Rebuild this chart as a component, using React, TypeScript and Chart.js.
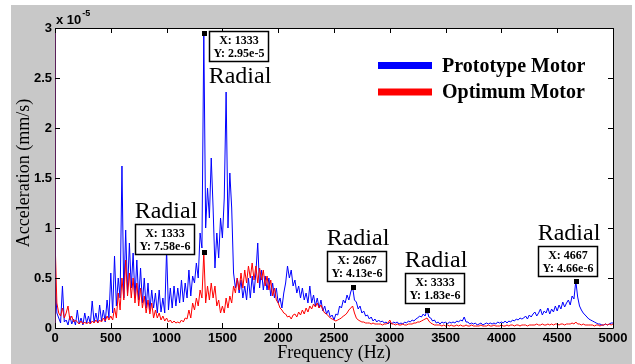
import React, { useEffect, useRef } from "react";
import { Chart, registerables } from "chart.js";
Chart.register(...registerables);

// ---------- data (acceleration in units of 1e-5 mm/s) ----------
const FREQ_MAX = 5000;
const BIN_COUNT = 300; // spectrum sampled every 5000/300 Hz

const prototypeMotor = [
  0.48, 0.15, 0.1, 0.05, 0.42, 0.06,
  0.08, 0.03, 0.12, 0.04, 0.09, 0.03,
  0.18, 0.04, 0.1, 0.03, 0.15, 0.05,
  0.12, 0.04, 0.27, 0.06, 0.15, 0.05,
  0.23, 0.07, 0.18, 0.06, 0.28, 0.1,
  0.55, 0.15, 0.72, 0.22, 0.5, 0.3,
  1.62, 0.3, 0.98, 0.35, 0.85, 0.4,
  0.75, 0.3, 0.68, 0.28, 0.6, 0.25,
  0.5, 0.2, 0.45, 0.18, 0.38, 0.2,
  0.35, 0.15, 0.38, 0.16, 0.3, 0.15,
  0.78, 0.18, 0.4, 0.2, 0.42, 0.22,
  0.4, 0.25, 0.48, 0.26, 0.45, 0.3,
  0.58, 0.32, 0.52, 0.45, 0.65, 0.5,
  0.95, 0.8, 2.95, 1.0, 1.4, 1.1,
  1.7, 1.2, 0.6, 0.95, 0.7, 1.1,
  0.9, 1.3, 2.36, 1.0, 1.55, 1.2,
  0.55, 0.4, 0.5, 0.35, 0.48, 0.3,
  0.42, 0.28, 0.5, 0.3, 0.52, 0.35,
  0.55, 0.85, 0.4, 0.58, 0.38, 0.52,
  0.38, 0.5, 0.32, 0.45, 0.3, 0.4,
  0.25, 0.3, 0.2, 0.35, 0.45, 0.62,
  0.5, 0.58, 0.42, 0.48, 0.35, 0.42,
  0.3, 0.4, 0.28, 0.35, 0.25, 0.42,
  0.25, 0.33, 0.22, 0.3, 0.2, 0.28,
  0.17, 0.22, 0.14, 0.18, 0.11, 0.13,
  0.08, 0.14, 0.13, 0.22, 0.2, 0.28,
  0.25, 0.33, 0.28, 0.36, 0.41, 0.28,
  0.26, 0.19, 0.22, 0.15, 0.17, 0.12,
  0.13, 0.09, 0.11, 0.07, 0.09, 0.06,
  0.08, 0.06, 0.07, 0.05, 0.06, 0.04,
  0.06, 0.04, 0.06, 0.05, 0.06, 0.04,
  0.05, 0.04, 0.06, 0.05, 0.07, 0.06,
  0.08, 0.07, 0.09, 0.1, 0.12, 0.11,
  0.14, 0.12, 0.18, 0.11, 0.1, 0.07,
  0.08, 0.05, 0.06, 0.04, 0.06, 0.05,
  0.06, 0.04, 0.06, 0.05, 0.06, 0.05,
  0.07, 0.06, 0.08, 0.07, 0.11, 0.06,
  0.06, 0.04, 0.05, 0.04, 0.05, 0.03,
  0.04, 0.05, 0.03, 0.04, 0.05, 0.04,
  0.05, 0.04, 0.05, 0.04, 0.06, 0.05,
  0.06, 0.05, 0.07, 0.05, 0.07, 0.06,
  0.08, 0.07, 0.09, 0.08, 0.1, 0.09,
  0.1, 0.12, 0.09, 0.13, 0.11, 0.14,
  0.16, 0.12, 0.15, 0.19, 0.13, 0.17,
  0.15, 0.2, 0.14, 0.19, 0.16, 0.22,
  0.17, 0.23, 0.19, 0.26, 0.21, 0.25,
  0.28, 0.23, 0.32, 0.29, 0.47, 0.31,
  0.22, 0.18, 0.15, 0.13, 0.11, 0.09,
  0.08, 0.07, 0.06, 0.05, 0.04, 0.04,
  0.03, 0.03, 0.04, 0.03, 0.04, 0.05,
  0.05,
];

const optimumMotor = [
  0.9, 0.25, 0.15, 0.12, 0.2, 0.1,
  0.15, 0.22, 0.08, 0.12, 0.06, 0.08,
  0.06, 0.04, 0.07, 0.04, 0.06, 0.04,
  0.06, 0.04, 0.07, 0.05, 0.08, 0.05,
  0.08, 0.06, 0.1, 0.07, 0.12, 0.08,
  0.12, 0.08, 0.2, 0.1, 0.35, 0.18,
  0.5, 0.28, 0.68, 0.32, 0.55, 0.3,
  0.5, 0.25, 0.45, 0.22, 0.4, 0.2,
  0.32, 0.15, 0.28, 0.14, 0.25, 0.1,
  0.18, 0.1, 0.15, 0.08, 0.12, 0.07,
  0.1, 0.06, 0.08, 0.05, 0.07, 0.05,
  0.06, 0.05, 0.08, 0.06, 0.1, 0.09,
  0.18, 0.1, 0.25, 0.18, 0.3, 0.22,
  0.38, 0.3, 0.76, 0.25, 0.42, 0.28,
  0.45, 0.3, 0.42, 0.22, 0.28, 0.15,
  0.22, 0.15, 0.3, 0.2, 0.32, 0.25,
  0.42, 0.35, 0.5, 0.38, 0.55, 0.4,
  0.58, 0.45, 0.62, 0.5, 0.65, 0.48,
  0.62, 0.45, 0.6, 0.48, 0.58, 0.42,
  0.52, 0.38, 0.48, 0.32, 0.4, 0.28,
  0.25, 0.2, 0.18, 0.15, 0.14, 0.11,
  0.12, 0.09, 0.13, 0.14, 0.11, 0.16,
  0.13, 0.18, 0.14, 0.2, 0.16, 0.22,
  0.19, 0.24, 0.21, 0.25, 0.2, 0.23,
  0.18, 0.15, 0.14, 0.12, 0.1, 0.09,
  0.08, 0.07, 0.08, 0.09, 0.1, 0.12,
  0.13, 0.15, 0.18, 0.2, 0.22, 0.15,
  0.1, 0.08, 0.07, 0.06, 0.06, 0.05,
  0.05, 0.05, 0.04, 0.05, 0.04, 0.04,
  0.04, 0.04, 0.03, 0.04, 0.04, 0.05,
  0.08, 0.04, 0.04, 0.03, 0.04, 0.03,
  0.03, 0.04, 0.03, 0.03, 0.04, 0.04,
  0.04, 0.05, 0.05, 0.06, 0.06, 0.07,
  0.08, 0.09, 0.1, 0.07, 0.05, 0.04,
  0.03, 0.03, 0.03, 0.03, 0.02, 0.03,
  0.02, 0.03, 0.02, 0.03, 0.02, 0.02,
  0.03, 0.02, 0.03, 0.02, 0.02, 0.03,
  0.02, 0.02, 0.03, 0.02, 0.02, 0.02,
  0.02, 0.03, 0.02, 0.02, 0.02, 0.03,
  0.02, 0.02, 0.03, 0.02, 0.02, 0.02,
  0.03, 0.02, 0.02, 0.03, 0.02, 0.03,
  0.03, 0.02, 0.03, 0.03, 0.02, 0.03,
  0.03, 0.03, 0.02, 0.03, 0.03, 0.03,
  0.03, 0.04, 0.03, 0.03, 0.04, 0.03,
  0.03, 0.04, 0.03, 0.04, 0.03, 0.04,
  0.04, 0.03, 0.04, 0.04, 0.03, 0.04,
  0.04, 0.04, 0.05, 0.04, 0.06, 0.04,
  0.04, 0.03, 0.04, 0.03, 0.03, 0.03,
  0.03, 0.03, 0.02, 0.03, 0.03, 0.02,
  0.03, 0.03, 0.04, 0.03, 0.04, 0.03,
  0.04,
];

const seriesNames = ["Prototype Motor", "Optimum Motor"];
const xTickValues = [0, 500, 1000, 1500, 2000, 2500, 3000, 3500, 4000, 4500, 5000];
const yTickValues = [0, 0.5, 1, 1.5, 2, 2.5, 3];
const xTitle = "Frequency (Hz)";
const yTitle = "Acceleration (mm/s)";
const exponentBase = "x 10";
const exponentPower = "-5";

// datatips (x in Hz, y in 1e-5 units)
const tipX = [1333.33, 1333.33, 2666.67, 3333.33, 4666.67];
const tipY = [2.95, 0.758, 0.413, 0.183, 0.466];
const tipXText = ["X: 1333", "X: 1333", "X: 2667", "X: 3333", "X: 4667"];
const tipYText = ["Y: 2.95e-5", "Y: 7.58e-6", "Y: 4.13e-6", "Y: 1.83e-6", "Y: 4.66e-6"];
const peakLabel = "Radial";

// layout of datatip boxes relative to marker: [dx, dy, labelBelow]
const tipLayout: [number, number, boolean][] = [
  [5, -2, true],
  [-69, -28, false],
  [-26, -36, false],
  [-22, -37, false],
  [-38, -35, false],
];

const SERIF = "'Liberation Serif', 'Times New Roman', serif";
const SANS = "'Liberation Sans', Arial, sans-serif";
const BLUE = "#0000ff";
const RED = "#ff0000";

const decorPlugin = {
  id: "decor",
  beforeDraw(chart: any) {
    const { ctx, chartArea: a } = chart;
    ctx.save();
    ctx.fillStyle = "#ffffff";
    ctx.fillRect(0, 0, chart.width, chart.height);
    ctx.fillStyle = "#c8c8c8";
    ctx.fillRect(11, 5, 621, 359);
    ctx.fillStyle = "#ffffff";
    ctx.fillRect(a.left, a.top, a.right - a.left, a.bottom - a.top);
    ctx.restore();
  },
  afterDraw(chart: any) {
    const { ctx, chartArea: a } = chart;
    const xs = chart.scales.x;
    const ys = chart.scales.y;
    ctx.save();
    // box
    ctx.lineWidth = 1;
    ctx.strokeStyle = "#000";
    ctx.beginPath();
    ctx.moveTo(a.left, a.top + 0.5);
    ctx.lineTo(a.right + 0.5, a.top + 0.5);
    ctx.lineTo(a.right + 0.5, a.bottom + 0.5);
    ctx.lineTo(a.left, a.bottom + 0.5);
    ctx.stroke();
    ctx.strokeStyle = "#5a205a";
    ctx.beginPath();
    ctx.moveTo(a.left + 0.5, a.top);
    ctx.lineTo(a.left + 0.5, a.bottom + 1);
    ctx.stroke();
    // inward ticks
    ctx.strokeStyle = "#000";
    const TL = 5;
    ctx.beginPath();
    xTickValues.forEach((v) => {
      const px = Math.round(xs.getPixelForValue(v)) + 0.5;
      ctx.moveTo(px, a.bottom);
      ctx.lineTo(px, a.bottom - TL);
      ctx.moveTo(px, a.top);
      ctx.lineTo(px, a.top + TL);
    });
    yTickValues.forEach((v) => {
      const py = Math.round(ys.getPixelForValue(v)) + 0.5;
      ctx.moveTo(a.left, py);
      ctx.lineTo(a.left + TL, py);
      ctx.moveTo(a.right, py);
      ctx.lineTo(a.right - TL, py);
    });
    ctx.stroke();

    // exponent label
    ctx.fillStyle = "#000";
    ctx.textBaseline = "middle";
    ctx.textAlign = "left";
    ctx.font = `bold 13px ${SANS}`;
    ctx.fillText(exponentBase, a.left + 1, 20);
    const w = ctx.measureText(exponentBase).width;
    ctx.font = `bold 9px ${SANS}`;
    ctx.fillText(exponentPower, a.left + 2 + w, 14);

    // axis titles
    ctx.font = `18px ${SERIF}`;
    ctx.textAlign = "center";
    ctx.textBaseline = "middle";
    ctx.fillText(xTitle, (a.left + a.right) / 2, 353);
    ctx.save();
    ctx.translate(24, 173);
    ctx.rotate(-Math.PI / 2);
    ctx.fillText(yTitle, 0, 0);
    ctx.restore();

    // legend
    const legendColors = [BLUE, RED];
    const legendY = [65.5, 92];
    legendColors.forEach((c, i) => {
      ctx.strokeStyle = c;
      ctx.lineWidth = 7;
      ctx.beginPath();
      ctx.moveTo(378, legendY[i]);
      ctx.lineTo(432, legendY[i]);
      ctx.stroke();
      ctx.fillStyle = "#000";
      ctx.font = `bold 20px ${SERIF}`;
      ctx.textAlign = "left";
      ctx.textBaseline = "middle";
      ctx.fillText(seriesNames[i], 442, legendY[i] + 1);
    });

    // datatips
    tipX.forEach((xv, i) => {
      const mx = xs.getPixelForValue(xv);
      const my = ys.getPixelForValue(tipY[i]);
      ctx.fillStyle = "#000";
      ctx.fillRect(Math.round(mx) - 2, Math.round(my) - 2, 5, 5);
      const [dx, dy, below] = tipLayout[i];
      const bx = Math.round(mx + dx);
      const by = Math.round(my + dy);
      const bw = 60;
      const bh = 31;
      ctx.fillStyle = "#fff";
      ctx.fillRect(bx, by, bw, bh);
      ctx.strokeStyle = "#000";
      ctx.lineWidth = 1.5;
      ctx.strokeRect(bx + 0.5, by + 0.5, bw - 1, bh - 1);
      ctx.fillStyle = "#000";
      ctx.font = `bold 12px ${SERIF}`;
      ctx.textAlign = "center";
      ctx.textBaseline = "middle";
      ctx.fillText(tipXText[i], bx + bw / 2, by + 9.5);
      ctx.fillText(tipYText[i], bx + bw / 2, by + 22.5);
      ctx.font = `24px ${SERIF}`;
      ctx.textBaseline = "alphabetic";
      const ly = below ? by + bh + 21 : by - 6;
      ctx.fillText(peakLabel, bx + bw / 2 + 1, ly);
    });
    ctx.restore();
  },
};

export default function App() {
  const ref = useRef<HTMLCanvasElement | null>(null);
  useEffect(() => {
    if (!ref.current) return;
    const step = FREQ_MAX / BIN_COUNT;
    const toPoints = (arr: number[]) => arr.map((v, i) => ({ x: i * step, y: v }));
    const tickFont = { family: SANS, size: 13, weight: "bold" as const };
    const chart = new Chart(ref.current, {
      type: "line",
      data: {
        datasets: [
          {
            label: seriesNames[0],
            data: toPoints(prototypeMotor),
            borderColor: BLUE,
            borderWidth: 1,
            pointRadius: 0,
            tension: 0,
            order: 1,
          },
          {
            label: seriesNames[1],
            data: toPoints(optimumMotor),
            borderColor: RED,
            borderWidth: 1,
            pointRadius: 0,
            tension: 0,
            order: 0,
          },
        ],
      },
      options: {
        animation: false,
        responsive: false,
        maintainAspectRatio: false,
        layout: { padding: { left: 0, right: 22, top: 28, bottom: 0 } },
        plugins: { legend: { display: false }, tooltip: { enabled: false } },
        scales: {
          x: {
            type: "linear",
            min: 0,
            max: FREQ_MAX,
            afterFit: (s: any) => {
              s.height = 36;
            },
            afterBuildTicks: (s: any) => {
              s.ticks = xTickValues.map((v) => ({ value: v }));
            },
            ticks: {
              autoSkip: false,
              maxRotation: 0,
              padding: 3,
              color: "#000",
              font: tickFont,
              callback: (v: any) => String(v),
            },
            grid: { display: false, drawTicks: false },
            border: { display: false },
          },
          y: {
            type: "linear",
            min: 0,
            max: 3,
            afterFit: (s: any) => {
              s.width = 55;
            },
            afterBuildTicks: (s: any) => {
              s.ticks = yTickValues.map((v) => ({ value: v }));
            },
            ticks: {
              autoSkip: false,
              padding: 3,
              color: "#000",
              font: tickFont,
              callback: (v: any) => String(v),
            },
            grid: { display: false, drawTicks: false },
            border: { display: false },
          },
        },
      },
      plugins: [decorPlugin],
    });
    return () => chart.destroy();
  }, []);
  return (
    <div style={{ position: "fixed", left: 0, top: 0, width: 635, height: 364 }}>
      <canvas ref={ref} width={635} height={364} style={{ display: "block" }} />
    </div>
  );
}
